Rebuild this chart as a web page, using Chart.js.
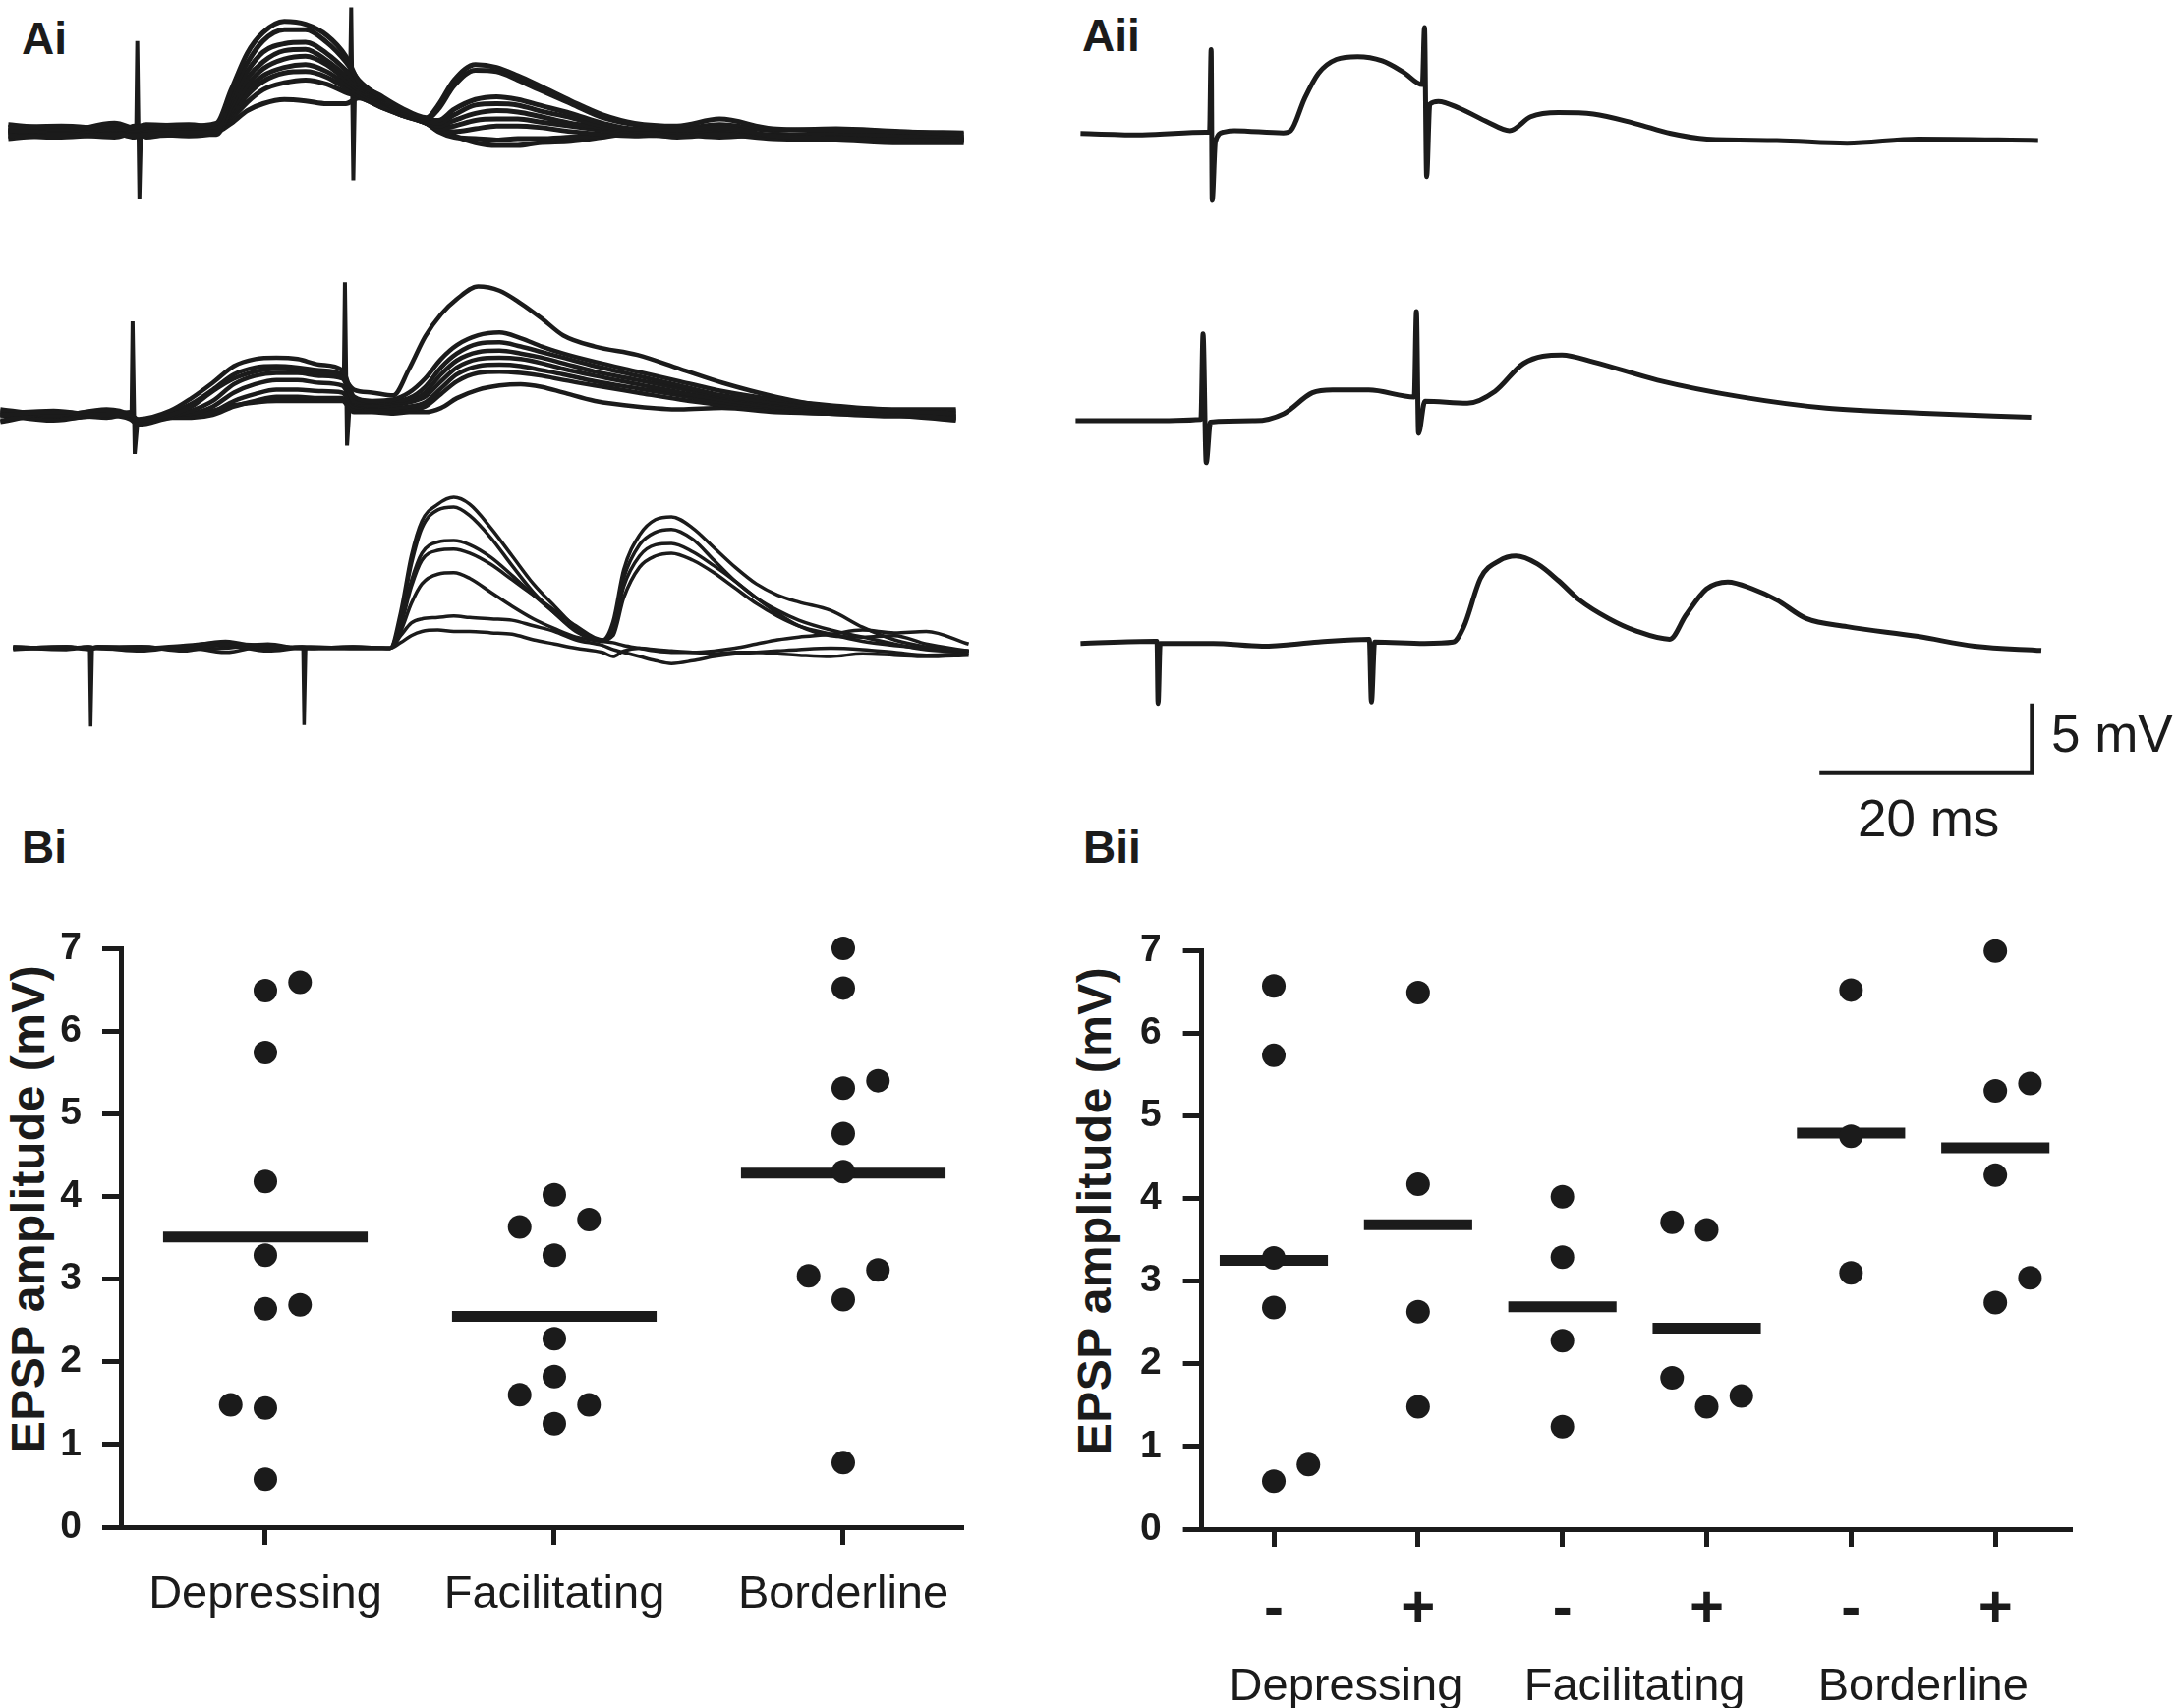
<!DOCTYPE html>
<html>
<head>
<meta charset="utf-8">
<title>EPSP traces and amplitudes</title>
<script src="https://cdn.jsdelivr.net/npm/chart.js@4.4.1/dist/chart.umd.min.js"></script>
<style>
  body { margin: 0; background: #fff; width: 2215px; height: 1738px; position: relative; overflow: hidden;
         font-family: 'Liberation Sans', Arial, sans-serif; color: #1b1b1b; }
  canvas { position: absolute; }
  .panel { position: absolute; font-weight: bold; font-size: 46px; line-height: 1; }
  .bar { position: absolute; font-size: 53px; line-height: 1; white-space: nowrap; }
  .ytitle { position: absolute; font-weight: bold; font-size: 48px; line-height: 1; white-space: nowrap;
            letter-spacing: 0.5px; transform: translate(-50%, -50%) rotate(-90deg); }
</style>
</head>
<body>
<div class="panel" style="left:22px;top:16px">Ai</div>
<div class="panel" style="left:1101px;top:13px">Aii</div>
<div class="panel" style="left:22px;top:839px">Bi</div>
<div class="panel" style="left:1102px;top:839px">Bii</div>
<div class="bar" style="left:2087px;top:720px">5 mV</div>
<div class="bar" style="left:1890px;top:806px">20 ms</div>
<div class="ytitle" style="left:29px;top:1230px">EPSP amplitude (mV)</div>
<div class="ytitle" style="left:1114px;top:1232px">EPSP amplitude (mV)</div>

<canvas id="aiTop"></canvas>
<canvas id="aiMid"></canvas>
<canvas id="aiBot"></canvas>
<canvas id="aiiTop"></canvas>
<canvas id="aiiMid"></canvas>
<canvas id="aiiBot"></canvas>
<canvas id="bi"></canvas>
<canvas id="bii"></canvas>

<script>
// ---- Ai, top: overlaid sweeps (ms, mV from baseline)
const aiTopTime = [0, 5, 10, 11.9, 13, 17, 19.6, 21, 22.5, 24, 26, 28, 30, 31.8, 33, 35, 37, 39.4, 40.5, 42, 44, 46, 48, 50, 53, 56, 59, 63, 67, 72, 78, 84, 90];
const aiTopSweeps = [
  [0.3, 0.4, 0.2, 0.3, 0.5, 0.4, 0.6, 3.0, 5.6, 7.1, 7.9, 7.7, 6.9, 5.4, 3.6, 2.6, 1.7, 1.0, 1.9, 3.7, 4.8, 4.6, 4.0, 3.3, 2.2, 1.2, 0.6, 0.4, 0.9, 0.2, 0.1, 0, -0.2],
  [-0.3, -0.4, -0.2, -0.3, -0.2, -0.1, 0, 2.6, 4.9, 6.5, 7.3, 7.3, 6.4, 5.0, 3.7, 2.5, 1.6, 0.9, 1.6, 3.3, 4.4, 4.3, 3.7, 3.0, 2.0, 1.0, 0.5, 0.1, 0.3, -0.3, -0.5, -0.6, -0.7],
  [0.5, 0.2, 0.4, 0.1, 0.3, 0.5, 0.3, 2.2, 4.3, 5.7, 6.3, 6.4, 5.6, 4.4, 3.4, 2.4, 1.5, 0.8, 0.8, 1.6, 2.3, 2.5, 2.3, 1.9, 1.3, 0.6, 0.2, 0.2, 0.5, 0.1, 0.2, 0, -0.1],
  [-0.5, -0.2, -0.4, -0.1, -0.3, -0.2, -0.2, 1.8, 3.8, 5.0, 5.8, 5.9, 5.1, 4.0, 3.2, 2.3, 1.4, 0.8, 0.6, 1.2, 1.9, 2.0, 1.9, 1.5, 1.0, 0.4, 0.1, -0.4, -0.2, -0.5, -0.6, -0.8, -0.8],
  [0.1, 0, 0.6, 0.2, 0, 0.1, 0.1, 1.5, 3.3, 4.5, 5.2, 5.4, 4.8, 3.7, 3.0, 2.2, 1.4, 0.7, 0.4, 0.8, 1.3, 1.5, 1.4, 1.1, 0.6, 0.3, 0, -0.1, 0.2, -0.3, -0.1, -0.3, -0.4],
  [-0.1, 0.3, 0, -0.4, 0.2, 0, 0.1, 1.3, 2.9, 4.0, 4.6, 4.8, 4.3, 3.4, 2.8, 2.0, 1.3, 0.6, 0.2, 0.4, 0.8, 0.9, 0.9, 0.7, 0.4, 0.1, -0.2, -0.3, -0.1, -0.4, -0.3, -0.4, -0.6],
  [0.2, -0.3, 0.3, 0, -0.1, -0.3, 0, 1.1, 2.6, 3.6, 4.2, 4.3, 3.9, 3.1, 2.6, 1.9, 1.2, 0.6, 0.1, 0, 0.2, 0.4, 0.4, 0.3, 0, -0.2, -0.3, -0.2, -0.4, -0.2, -0.5, -0.2, -0.5],
  [-0.2, 0.1, -0.3, 0.4, -0.4, 0.2, 0.1, 0.9, 2.1, 3.0, 3.5, 3.7, 3.4, 2.8, 2.5, 1.8, 1.2, 0.6, 0, -0.4, -0.5, -0.6, -0.5, -0.5, -0.4, -0.3, -0.2, -0.3, -0.1, -0.3, -0.4, -0.4, -0.6],
  [0, 0.1, -0.1, 0, 0.1, 0.1, 0, 0.6, 1.5, 2.0, 2.3, 2.2, 2.0, 2.0, 2.4, 1.8, 1.2, 0.6, 0.2, -0.3, -0.8, -1.0, -1.0, -0.8, -0.7, -0.4, -0.1, -0.2, -0.1, -0.3, -0.3, -0.4, -0.5]
];
const aiTopStimTime = [12.05, 12.15, 12.35, 12.5, 20, 32.2, 32.3, 32.5, 32.65];
const aiTopStimMv = [0, 6.5, -4.8, 0, null, 4.0, 8.9, -3.5, 3.0];

// ---- Ai, middle
const aiMidTime = [0, 5, 10, 12.2, 13, 16, 18, 20, 22, 24, 26, 28, 30, 32.2, 33.3, 35, 37, 38.5, 40, 41.5, 43, 45, 47, 49, 51, 53, 56, 60, 64, 68, 73, 78, 84, 90];
const aiMidSweeps = [
  [0, 0.2, 0, 0, -0.4, 0, 0.6, 1.7, 2.6, 3.1, 3.3, 3.2, 3.0, 2.7, 1.8, 1.6, 1.4, 3.3, 5.6, 7.2, 8.3, 9.2, 8.9, 8.0, 6.9, 5.7, 4.9, 4.3, 3.3, 2.3, 1.3, 0.6, 0.3, 0.1],
  [0.4, 0, 0.3, 0, -0.3, 0.3, 1.2, 2.3, 3.5, 4.0, 4.1, 4.0, 3.6, 3.2, 1.3, 1.0, 1.1, 1.6, 2.6, 4.0, 5.0, 5.7, 5.9, 5.5, 4.9, 4.4, 3.8, 3.1, 2.4, 1.7, 1.1, 0.7, 0.4, 0.4],
  [-0.4, 0.1, -0.2, 0.1, -0.5, 0.1, 0.8, 1.8, 2.9, 3.4, 3.5, 3.4, 3.2, 2.9, 1.0, 0.9, 1.0, 1.2, 2.0, 3.4, 4.4, 5.1, 5.2, 4.9, 4.5, 4.1, 3.5, 2.8, 2.1, 1.4, 0.9, 0.5, 0.2, -0.3],
  [0, -0.4, 0.1, 0, -0.6, -0.1, 0.3, 1.0, 2.2, 2.8, 3.0, 3.0, 2.8, 2.6, 0.9, 0.7, 0.9, 1.0, 1.6, 2.9, 3.9, 4.5, 4.6, 4.4, 4.1, 3.7, 3.1, 2.5, 1.9, 1.3, 0.8, 0.4, 0.1, -0.1],
  [0.1, 0.3, -0.1, 0.2, -0.5, 0, 0.1, 0.6, 1.6, 2.2, 2.5, 2.5, 2.3, 2.1, 0.8, 0.6, 0.7, 0.9, 1.3, 2.4, 3.4, 4.0, 4.1, 4.0, 3.7, 3.3, 2.8, 2.2, 1.6, 1.1, 0.6, 0.3, 0, 0.3],
  [-0.5, 0.1, 0, -0.3, -0.7, -0.2, -0.1, 0.2, 1.0, 1.5, 1.8, 1.8, 1.7, 1.6, 0.6, 0.5, 0.5, 0.6, 0.9, 1.9, 2.9, 3.5, 3.6, 3.5, 3.2, 2.9, 2.4, 1.9, 1.4, 0.9, 0.5, 0.2, 0, -0.4],
  [0, -0.1, 0.4, 0, -0.6, -0.2, -0.2, 0, 0.6, 1.0, 1.3, 1.3, 1.2, 1.2, 0.4, 0.3, 0.3, 0.4, 0.6, 1.5, 2.4, 3.0, 3.1, 3.0, 2.8, 2.5, 2.1, 1.6, 1.1, 0.7, 0.3, 0.1, -0.1, 0],
  [0.3, -0.3, 0, 0.1, -0.5, -0.1, 0, 0.3, 0.7, 0.9, 1.0, 1.0, 1.0, 1.0, 0.2, 0.2, 0.1, 0.2, 0.2, 0.5, 1.2, 1.8, 2.1, 2.2, 2.0, 1.6, 1.0, 0.6, 0.4, 0.5, 0.2, 0.1, 0, -0.2]
];
const aiMidStimTime = [12.35, 12.45, 12.65, 12.9, 20, 32.35, 32.45, 32.65, 32.9];
const aiMidStimMv = [0, 6.7, -2.8, -0.6, null, 2.5, 9.5, -2.2, 0.8];

// ---- Ai, bottom
const aiBotTime = [0, 5, 7.1, 8, 12, 16, 20, 24, 27.2, 28, 32, 35.5, 36.5, 37.5, 38.5, 40, 41.5, 43, 45, 47, 49, 51, 53, 55.5, 56.5, 57.5, 59, 60.5, 62, 64, 66, 68, 70, 72, 74, 77, 80, 83, 86, 90];
const aiBotSweeps = [
  [0, 0.1, 0, 0, 0.1, -0.2, 0.3, 0.2, 0, 0, 0, 0, 2.6, 6.6, 9.1, 10.3, 10.8, 10.3, 8.6, 6.6, 4.6, 3.0, 1.5, 0.6, 1.9, 5.6, 8.1, 9.2, 9.4, 8.6, 7.2, 5.8, 4.6, 3.8, 3.3, 2.7, 1.5, 0.6, 0.1, -0.2],
  [0.1, 0, 0.1, 0, -0.1, 0.1, 0.5, 0, 0.1, 0.1, 0, 0, 2.2, 6.0, 8.6, 9.9, 10.1, 9.5, 7.9, 5.9, 4.0, 2.5, 1.2, 0.5, 1.5, 5.0, 7.4, 8.3, 8.5, 7.8, 6.3, 4.8, 3.6, 2.7, 2.0, 1.3, 0.8, 0.3, -0.1, -0.3],
  [-0.1, 0.1, 0, 0.1, 0, 0, 0.2, -0.2, 0, 0, 0.1, 0, 1.8, 4.8, 6.8, 7.6, 7.7, 7.4, 6.5, 5.2, 3.8, 2.5, 1.3, 0.5, 1.2, 4.4, 6.6, 7.4, 7.5, 6.9, 5.9, 4.8, 3.6, 2.5, 1.6, 0.9, 0.8, 0.9, 0.3, -0.2],
  [0, -0.1, 0.1, 0, 0.1, -0.1, 0, 0.3, 0, 0, 0, 0, 1.6, 4.4, 6.3, 7.0, 7.1, 6.8, 6.0, 4.9, 3.8, 2.7, 1.6, 0.6, 0.9, 3.6, 5.8, 6.6, 6.8, 6.3, 5.4, 4.3, 3.2, 2.3, 1.6, 1.0, 0.5, 0.2, 0, -0.2],
  [0.1, 0, 0, 0.1, 0, 0.2, 0.4, -0.1, 0.1, 0, 0, 0, 1.2, 3.2, 4.6, 5.3, 5.4, 5.0, 4.0, 3.0, 2.1, 1.4, 0.8, 0.5, 0.4, 0.2, 0, -0.2, -0.3, -0.3, -0.2, 0, 0.3, 0.6, 0.8, 1.0, 1.3, 1.1, 1.2, 0.3],
  [0, 0.1, -0.1, 0, -0.2, 0.1, -0.3, 0.2, 0, 0, 0.1, 0, 0.9, 1.8, 2.1, 2.2, 2.3, 2.2, 2.1, 2.0, 1.6, 1.2, 0.6, 0.2, -0.1, -0.3, -0.6, -0.9, -1.1, -0.9, -0.6, -0.4, -0.3, -0.2, -0.1, 0, -0.1, -0.3, -0.5, -0.4],
  [0, 0, 0, 0.1, 0.1, -0.1, 0.3, 0.1, 0, 0, 0, 0, 0.4, 0.9, 1.2, 1.3, 1.2, 1.2, 1.1, 1.0, 0.6, 0.3, 0, -0.3, -0.6, -0.2, 0, -0.1, -0.2, -0.3, -0.4, -0.3, -0.3, -0.4, -0.5, -0.6, -0.4, -0.5, -0.6, -0.5]
];
const aiBotStimTime = [7.2, 7.3, 7.45, 20, 27.3, 27.4, 27.55];
const aiBotStimMv = [0, -5.6, 0, null, 0, -5.5, 0];

// ---- Aii: averaged sweeps
const aiiTopTime = [0, 5.8, 11.8, 12.15, 12.3, 12.4, 12.7, 13.5, 14.5, 19.1, 19.8, 21.1, 22.4, 24.1, 26.1, 28.4, 30.4, 32.2, 32.4, 32.6, 32.9, 33.7, 35.7, 38.4, 40.4, 42.4, 45.0, 48.3, 52.3, 55.6, 59.0, 65.6, 72.2, 78.9, 90.2];
const aiiTopMv = [0, -0.1, 0.1, 0.1, 6.0, -4.8, -0.6, 0.1, 0.2, 0.04, 0.2, 2.5, 4.3, 5.3, 5.5, 5.2, 4.4, 3.5, 7.6, -3.1, 2.1, 2.3, 1.8, 0.8, 0.2, 1.2, 1.5, 1.4, 0.7, 0, -0.4, -0.5, -0.7, -0.4, -0.5];

const aiiMidTime = [0, 6.3, 11.8, 12.0, 12.3, 12.7, 16.9, 19.6, 22.3, 24.2, 27.6, 31.9, 32.1, 32.3, 32.9, 36.9, 39.5, 42.2, 45.8, 48.8, 54.8, 62.7, 70.7, 79.3, 90.0];
const aiiMidMv = [0, 0, 0.1, 6.2, -3.0, -0.1, 0, 0.5, 2.0, 2.2, 2.2, 1.7, 7.8, -0.9, 1.4, 1.25, 2.1, 4.1, 4.7, 4.2, 2.9, 1.7, 0.9, 0.55, 0.25];

const aiiBotTime = [0, 7.0, 7.2, 7.3, 7.5, 12.5, 17.1, 22.4, 27.2, 27.4, 27.7, 32.4, 35.1, 36.1, 37.7, 39.4, 41.0, 43.0, 45.0, 47.0, 49.7, 52.3, 55.5, 57.0, 58.96, 60.96, 63.3, 65.6, 68.3, 72.2, 78.9, 84.2, 90.5];
const aiiBotMv = [0, 0.15, 0.15, -4.3, 0, 0, -0.2, 0.1, 0.3, -4.2, 0.1, 0, 0.1, 1.2, 4.7, 5.9, 6.25, 5.7, 4.5, 3.1, 1.8, 0.9, 0.3, 2.0, 3.9, 4.4, 3.9, 3.1, 1.8, 1.2, 0.5, -0.2, -0.5];

// scale bar: 20 ms by 5 mV
const scaleBarMs = [69.6, 89.6, 89.6];
const scaleBarMv = [-9.3, -9.3, -4.3];

// ---- Bi: EPSP amplitude (mV) per class
const biCats = ['Depressing', 'Facilitating', 'Borderline'];
const biDep = [6.49, 6.59, 5.74, 4.18, 3.29, 2.64, 2.69, 1.44, 1.48, 0.58];
const biDepSide = [0, 1, 0, 0, 0, 0, 1, 0, -1, 0];
const biFac = [4.02, 3.63, 3.72, 3.29, 2.28, 1.82, 1.60, 1.48, 1.25];
const biFacSide = [0, -1, 1, 0, 0, 0, -1, 1, 0];
const biBor = [7.0, 6.52, 5.31, 5.40, 4.76, 4.30, 3.04, 3.11, 2.75, 0.78];
const biBorSide = [0, 0, 0, 1, 0, 0, -1, 1, 0, 0];
const biMeans = [3.51, 2.55, 4.28];

// ---- Bii: split by - / +
const biiSigns = ['-', '+', '-', '+', '-', '+'];
const biiGroups = ['Depressing', 'Facilitating', 'Borderline'];
const biiDepMinus = [6.57, 5.73, 3.28, 2.68, 0.58, 0.78];
const biiDepMinusSide = [0, 0, 0, 0, 0, 1];
const biiDepPlus = [6.49, 4.17, 2.63, 1.48];
const biiDepPlusSide = [0, 0, 0, 0];
const biiFacMinus = [4.02, 3.29, 2.28, 1.24];
const biiFacMinusSide = [0, 0, 0, 0];
const biiFacPlus = [3.71, 3.62, 1.83, 1.48, 1.61];
const biiFacPlusSide = [-1, 0, -1, 0, 1];
const biiBorMinus = [6.52, 4.75, 3.10];
const biiBorMinusSide = [0, 0, 0];
const biiBorPlus = [6.99, 5.30, 5.39, 4.28, 2.74, 3.04];
const biiBorPlusSide = [0, 0, 1, 0, 0, 1];
const biiMeans = [3.25, 3.68, 2.69, 2.43, 4.79, 4.61];

// ------------------------------------------------------------
const INK = '#1b1b1b';
const PX_PER_MS = 10.8;
const PX_PER_MV = 14.2;

function pts(xs, ys) {
  return xs.map((x, i) => ({ x: x, y: ys[i] }));
}

function sweepSet(times, values, width) {
  return { data: pts(times, values), borderColor: INK, borderWidth: width, pointRadius: 0,
           cubicInterpolationMode: 'monotone', fill: false, clip: false };
}

function stiffSet(times, values, width) {
  return { data: pts(times, values), borderColor: INK, borderWidth: width, pointRadius: 0,
           tension: 0, spanGaps: false, fill: false, clip: false };
}

// one chart per trace row, same ms and mV scale everywhere
function traceChart(id, x0, base, mvTop, mvBottom, datasets) {
  const canvas = document.getElementById(id);
  const msMin = -3, msMax = 93;
  canvas.width = Math.round((msMax - msMin) * PX_PER_MS);
  canvas.height = Math.round((mvTop - mvBottom) * PX_PER_MV);
  canvas.style.left = (x0 + msMin * PX_PER_MS) + 'px';
  canvas.style.top = (base - mvTop * PX_PER_MV) + 'px';
  return new Chart(canvas, {
    type: 'line',
    data: { datasets: datasets },
    options: {
      responsive: false, animation: false, devicePixelRatio: 1,
      layout: { padding: 0, autoPadding: false },
      plugins: { legend: { display: false }, tooltip: { enabled: false } },
      scales: {
        x: { type: 'linear', min: msMin, max: msMax, display: false },
        y: { type: 'linear', min: mvBottom, max: mvTop, display: false }
      }
    }
  });
}

traceChart('aiTop', 8, 134, 10, -6,
  aiTopSweeps.map(s => sweepSet(aiTopTime, s, 5)).concat([stiffSet(aiTopStimTime, aiTopStimMv, 4)]));
traceChart('aiMid', 0, 422, 10.5, -4,
  aiMidSweeps.map(s => sweepSet(aiMidTime, s, 4.5)).concat([stiffSet(aiMidStimTime, aiMidStimMv, 4)]));
traceChart('aiBot', 13, 659, 12, -7,
  aiBotSweeps.map(s => sweepSet(aiBotTime, s, 3.5)).concat([stiffSet(aiBotStimTime, aiBotStimMv, 3.5)]));

traceChart('aiiTop', 1099, 136, 9, -6, [sweepSet(aiiTopTime, aiiTopMv, 5)]);
traceChart('aiiMid', 1094, 428, 9, -4, [sweepSet(aiiMidTime, aiiMidMv, 5)]);
traceChart('aiiBot', 1099, 655, 8, -11, [
  sweepSet(aiiBotTime, aiiBotMv, 5),
  stiffSet(scaleBarMs, scaleBarMv, 4)
]);

// ---- dot plots
const tickFont = { family: "'Liberation Sans Narrow', 'Liberation Sans', Arial, sans-serif", weight: 'bold', size: 39 };
const labelFont = { family: "'Liberation Sans', Arial, sans-serif", size: 47 };

function dotSet(values, sides, cat, spread) {
  return { type: 'scatter', data: values.map((v, i) => ({ x: cat + sides[i] * spread, y: v })),
           pointRadius: 12, pointBackgroundColor: INK, pointBorderWidth: 0, showLine: false, clip: false };
}

function meanSet(mean, cat, half) {
  return { type: 'line', data: [{ x: cat - half, y: mean }, { x: cat + half, y: mean }],
           borderColor: INK, borderWidth: 11, borderCapStyle: 'butt', pointRadius: 0, tension: 0, clip: false };
}

function yAxis(width, pad) {
  return {
    min: 0, max: 7,
    ticks: { stepSize: 1, font: tickFont, color: INK, padding: pad },
    grid: { drawOnChartArea: false, tickLength: 19, tickWidth: 5, tickColor: INK },
    border: { color: INK, width: 5 },
    afterFit: s => { s.width = width; }
  };
}

function place(canvas, left, top, w, h) {
  canvas.width = w; canvas.height = h;
  canvas.style.left = left + 'px';
  canvas.style.top = top + 'px';
}

// Bi
const biCanvas = document.getElementById('bi');
place(biCanvas, 0, 900, 1000, 800);
new Chart(biCanvas, {
  type: 'scatter',
  data: {
    datasets: [
      dotSet(biDep, biDepSide, 1, 0.12),
      dotSet(biFac, biFacSide, 2, 0.12),
      dotSet(biBor, biBorSide, 3, 0.12)
    ].concat(biMeans.map((m, i) => meanSet(m, i + 1, 0.354)))
  },
  options: {
    responsive: false, animation: false, devicePixelRatio: 1,
    layout: { padding: { top: 65, right: 20, left: 0, bottom: 0 }, autoPadding: false },
    plugins: { legend: { display: false }, tooltip: { enabled: false } },
    scales: {
      x: {
        type: 'linear', min: 0.5, max: 3.415,
        afterBuildTicks: s => { s.ticks = [1, 2, 3].map(v => ({ value: v })); },
        ticks: { callback: (v, i) => biCats[i], font: labelFont, color: INK, padding: 23, maxRotation: 0, autoSkip: false },
        grid: { drawOnChartArea: false, tickLength: 18, tickWidth: 5, tickColor: INK },
        border: { color: INK, width: 5 },
        afterFit: s => { s.height = 146; }
      },
      y: yAxis(123, 21)
    }
  }
});

// Bii
const biiCanvas = document.getElementById('bii');
place(biiCanvas, 1085, 900, 1130, 838);
const biiCols = [
  [biiDepMinus, biiDepMinusSide], [biiDepPlus, biiDepPlusSide],
  [biiFacMinus, biiFacMinusSide], [biiFacPlus, biiFacPlusSide],
  [biiBorMinus, biiBorMinusSide], [biiBorPlus, biiBorPlusSide]
];
new Chart(biiCanvas, {
  type: 'scatter',
  data: {
    datasets: biiCols.map((c, i) => dotSet(c[0], c[1], i + 1, 0.24))
      .concat(biiMeans.map((m, i) => meanSet(m, i + 1, 0.375)))
  },
  options: {
    responsive: false, animation: false, devicePixelRatio: 1,
    layout: { padding: { top: 67, right: 107, left: 0, bottom: 0 }, autoPadding: false },
    plugins: { legend: { display: false }, tooltip: { enabled: false } },
    scales: {
      x: {
        type: 'linear', min: 0.5, max: 6.53, position: 'bottom', weight: 0,
        afterBuildTicks: s => { s.ticks = [1, 2, 3, 4, 5, 6].map(v => ({ value: v })); },
        ticks: { callback: (v, i) => biiSigns[i], font: { family: "'Liberation Sans', Arial, sans-serif", weight: 'bold', size: 60 },
                 color: INK, padding: 28, maxRotation: 0, autoSkip: false },
        grid: { drawOnChartArea: false, tickLength: 18, tickWidth: 5, tickColor: INK },
        border: { color: INK, width: 5 },
        afterFit: s => { s.height = 114; }
      },
      xg: {
        type: 'linear', min: 0.5, max: 6.53, position: 'bottom', weight: 1,
        afterBuildTicks: s => { s.ticks = [1.5, 3.5, 5.5].map(v => ({ value: v })); },
        ticks: { callback: (v, i) => biiGroups[i], font: labelFont, color: INK, padding: 11, maxRotation: 0, autoSkip: false },
        grid: { display: false },
        border: { display: false },
        afterFit: s => { s.height = 68; }
      },
      y: yAxis(137.6, 22)
    }
  }
});
</script>
</body>
</html>
